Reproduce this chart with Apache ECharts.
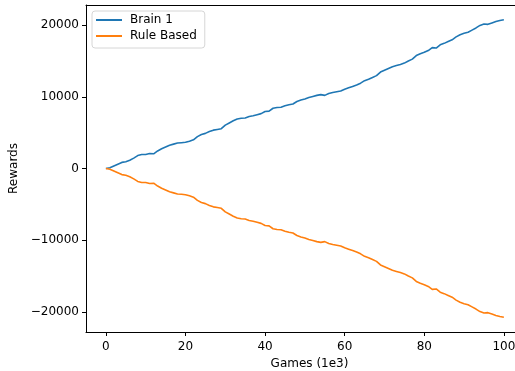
<!DOCTYPE html>
<html>
<head>
<meta charset="utf-8">
<script src="https://cdn.jsdelivr.net/npm/echarts@6/dist/echarts.min.js"></script>
<style>
  html, body { margin: 0; padding: 0; background: #fff; }
  #chart { width: 515px; height: 371px; }
</style>
</head>
<body>
<div id="chart"></div>
<script>
// games played, in thousands
const games = Array.from({ length: 101 }, (_, i) => i);

const brainRewards = [
  0, 100, 350, 600, 850, 950, 1150, 1450, 1800, 1950,
  1950, 2100, 2050, 2450, 2750, 3000, 3250, 3400, 3550, 3600,
  3650, 3800, 4000, 4450, 4750, 4900, 5150, 5350, 5450, 5550,
  6050, 6350, 6650, 6900, 7000, 7050, 7250, 7350, 7500, 7650,
  7950, 8000, 8400, 8500, 8550, 8750, 8900, 9000, 9350, 9550,
  9700, 9900, 10050, 10200, 10300, 10200, 10450, 10600, 10700, 10800,
  11050, 11250, 11450, 11650, 11900, 12250, 12450, 12700, 12950, 13450,
  13700, 13950, 14200, 14350, 14500, 14700, 15000, 15250, 15750, 16000,
  16200, 16450, 16850, 16800, 17250, 17450, 17700, 17950, 18350, 18650,
  18850, 19000, 19300, 19600, 19950, 20150, 20100, 20300, 20500, 20650,
  20750,
];

const ruleRewards = [
  0, -100, -350, -600, -850, -950, -1150, -1450, -1800, -1950,
  -1950, -2100, -2050, -2450, -2750, -3000, -3250, -3400, -3550, -3600,
  -3650, -3800, -4000, -4450, -4750, -4900, -5150, -5350, -5450, -5550,
  -6050, -6350, -6650, -6900, -7000, -7050, -7250, -7350, -7500, -7650,
  -7950, -8000, -8400, -8500, -8550, -8750, -8900, -9000, -9350, -9550,
  -9700, -9900, -10050, -10200, -10300, -10200, -10450, -10600, -10700, -10800,
  -11050, -11250, -11450, -11650, -11900, -12250, -12450, -12700, -12950, -13450,
  -13700, -13950, -14200, -14350, -14500, -14700, -15000, -15250, -15750, -16000,
  -16200, -16450, -16850, -16800, -17250, -17450, -17700, -17950, -18350, -18650,
  -18850, -19000, -19300, -19600, -19950, -20150, -20100, -20300, -20500, -20650,
  -20750,
];

const xTicks = [0, 20, 40, 60, 80, 100];
const yTicks = [-20000, -10000, 0, 10000, 20000];

const font = "DejaVu Sans";
const fmtY = (v) => (v < 0 ? "\u2212" + Math.abs(v) : String(v));

const chart = echarts.init(document.getElementById("chart"), null, { renderer: "canvas" });
chart.setOption({
  animation: false,
  textStyle: { fontFamily: font },
  // the image is cropped on the right, so the axes run past the canvas edge
  grid: { left: 86, top: 5, right: 0, bottom: 39, outerBoundsMode: "none" },
  legend: {
    orient: "vertical",
    left: 92, top: 11,
    icon: "rect",
    itemWidth: 26, itemHeight: 2,
    itemGap: 4,
    padding: [3, 8, 6, 4],
    borderColor: "#d6d6d6", borderWidth: 1, borderRadius: 3,
    backgroundColor: "#fff",
    textStyle: { fontFamily: font, fontSize: 12, color: "#000", padding: [0, 0, 0, 3] },
    data: ["Brain 1", "Rule Based"],
  },
  xAxis: [
    {
      type: "value",
      min: -5, max: 102.8,
      name: "Games (1e3)",
      nameLocation: "middle",
      nameGap: 26,
      nameTextStyle: { fontFamily: font, fontSize: 12, color: "#000", padding: [0, 0, 0, 18] },
      axisLine: { show: true, onZero: false, lineStyle: { color: "#000", width: 1 } },
      axisTick: { show: true, length: 4, customValues: xTicks, lineStyle: { color: "#000" } },
      axisLabel: { customValues: xTicks, fontFamily: font, fontSize: 12, color: "#000", margin: 9 },
      splitLine: { show: false },
    },
    {
      type: "value",
      position: "top",
      min: -5, max: 102.8,
      axisLine: { show: true, onZero: false, lineStyle: { color: "#000", width: 1 } },
      axisTick: { show: false },
      axisLabel: { show: false },
      splitLine: { show: false },
    },
  ],
  yAxis: {
    type: "value",
    min: -22800, max: 22800,
    name: "Rewards",
    nameLocation: "middle",
    nameRotate: 90,
    nameGap: 50,
    nameTextStyle: { fontFamily: font, fontSize: 12, color: "#000" },
    axisLine: { show: true, onZero: false, lineStyle: { color: "#000", width: 1 } },
    axisTick: { show: true, length: 4, customValues: yTicks, lineStyle: { color: "#000" } },
    axisLabel: { customValues: yTicks, formatter: fmtY, fontFamily: font, fontSize: 12, color: "#000", margin: 7 },
    splitLine: { show: false },
  },
  series: [
    {
      name: "Brain 1",
      type: "line",
      data: games.map((g, i) => [g, brainRewards[i]]),
      showSymbol: false,
      lineStyle: { color: "#1f77b4", width: 1.6 },
      itemStyle: { color: "#1f77b4" },
    },
    {
      name: "Rule Based",
      type: "line",
      data: games.map((g, i) => [g, ruleRewards[i]]),
      showSymbol: false,
      lineStyle: { color: "#ff7f0e", width: 1.6 },
      itemStyle: { color: "#ff7f0e" },
    },
  ],
});
</script>
</body>
</html>
